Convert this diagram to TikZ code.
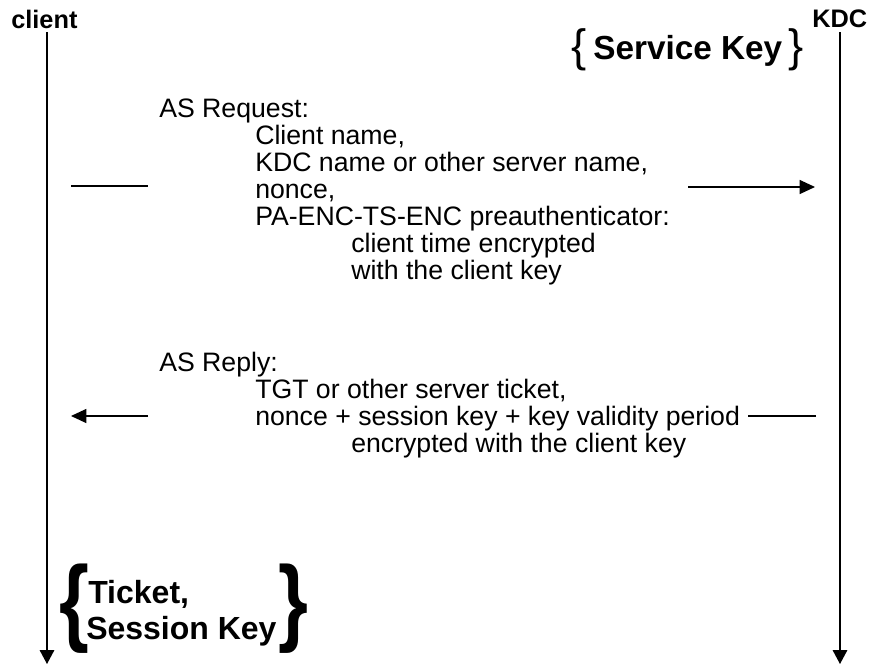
\documentclass[tikz,border=0pt]{standalone}
\usepackage{fontspec}
\setmainfont{Liberation Sans}
\usetikzlibrary{arrows.meta}

\begin{document}
\begin{tikzpicture}[x=0.75pt, y=-0.75pt,
	txt/.style={anchor=base west, inner sep=0pt, font=\fontsize{20}{24}\selectfont},
	party/.style={anchor=base west, inner sep=0pt, font=\fontsize{19}{23}\selectfont\bfseries},
	keytxt/.style={anchor=base west, inner sep=0pt, font=\fontsize{24}{29}\selectfont\bfseries},
	smallbrace/.style={inner sep=0pt, font=\fontsize{34}{40}\selectfont},
	bigbrace/.style={inner sep=0pt, font=\fontsize{72}{76}\selectfont\bfseries},
	lifeline/.style={line width=0.9pt, -{Triangle[length=10.5pt, width=11pt]}},
	msgline/.style={line width=0.9pt},
	msgarrow/.style={line width=0.9pt, -{Triangle[length=11.5pt, width=10.5pt]}}]
		\useasboundingbox (0,0) rectangle (872,664);
		% Parties and life lines:
		\node[party] (client) at (11, 28){client};
		\node[party] (kdc) at (812, 27){KDC};
		\coordinate (clienttop) at (47, 32);
		\coordinate (clientend) at (47, 664);
		\coordinate (kdctop) at (840, 32);
		\coordinate (kdcend) at (840, 664);
		\draw[lifeline] (clienttop) -- (clientend);
		\draw[lifeline] (kdctop) -- (kdcend);
		% Service key of the KDC:
		\node[smallbrace] (skopen) at (579, 50){\{};
		\node[keytxt, font=\fontsize{25}{30}\selectfont\bfseries] (servicekey) at (593, 59){Service Key};
		\node[smallbrace] (skclose) at (796, 50){\}};
		% AS request:
		\node[txt] (asreq) at (159, 117){AS Request:};
		\node[txt] (reqname) at (255, 144){Client name,};
		\node[txt] (reqkdc) at (255, 171){KDC name or other server name,};
		\node[txt] (reqnonce) at (255, 198){nonce,};
		\node[txt] (reqpa) at (255, 225){PA-ENC-TS-ENC preauthenticator:};
		\node[txt] (reqtime) at (351, 252){client time encrypted};
		\node[txt] (reqkey) at (351, 279){with the client key};
		\coordinate (reqa) at (71, 186);
		\coordinate (reqb) at (148, 186);
		\coordinate (reqc) at (688, 187);
		\coordinate (reqd) at (815, 187);
		\draw[msgline] (reqa) -- (reqb);
		\draw[msgarrow] (reqc) -- (reqd);
		% AS reply:
		\node[txt] (asrep) at (159, 371){AS Reply:};
		\node[txt] (repticket) at (255, 398){TGT or other server ticket,};
		\node[txt] (repnonce) at (255, 425){nonce + session key + key validity period};
		\node[txt] (repenc) at (351, 452){encrypted with the client key};
		\coordinate (repa) at (816, 416);
		\coordinate (repb) at (748, 416);
		\coordinate (repc) at (148, 416);
		\coordinate (repd) at (71, 416);
		\draw[msgline] (repa) -- (repb);
		\draw[msgarrow] (repc) -- (repd);
		% Ticket and session key of the client:
		\node[bigbrace] (tkopen) at (74, 609){\scalebox{0.8}[1]{\{}};
		\node[keytxt] (ticket) at (88, 603){Ticket,};
		\node[keytxt] (sessionkey) at (86, 639){Session Key};
		\node[bigbrace] (tkclose) at (293, 609){\scalebox{0.8}[1]{\}}};
	\end{tikzpicture}
\end{document}
